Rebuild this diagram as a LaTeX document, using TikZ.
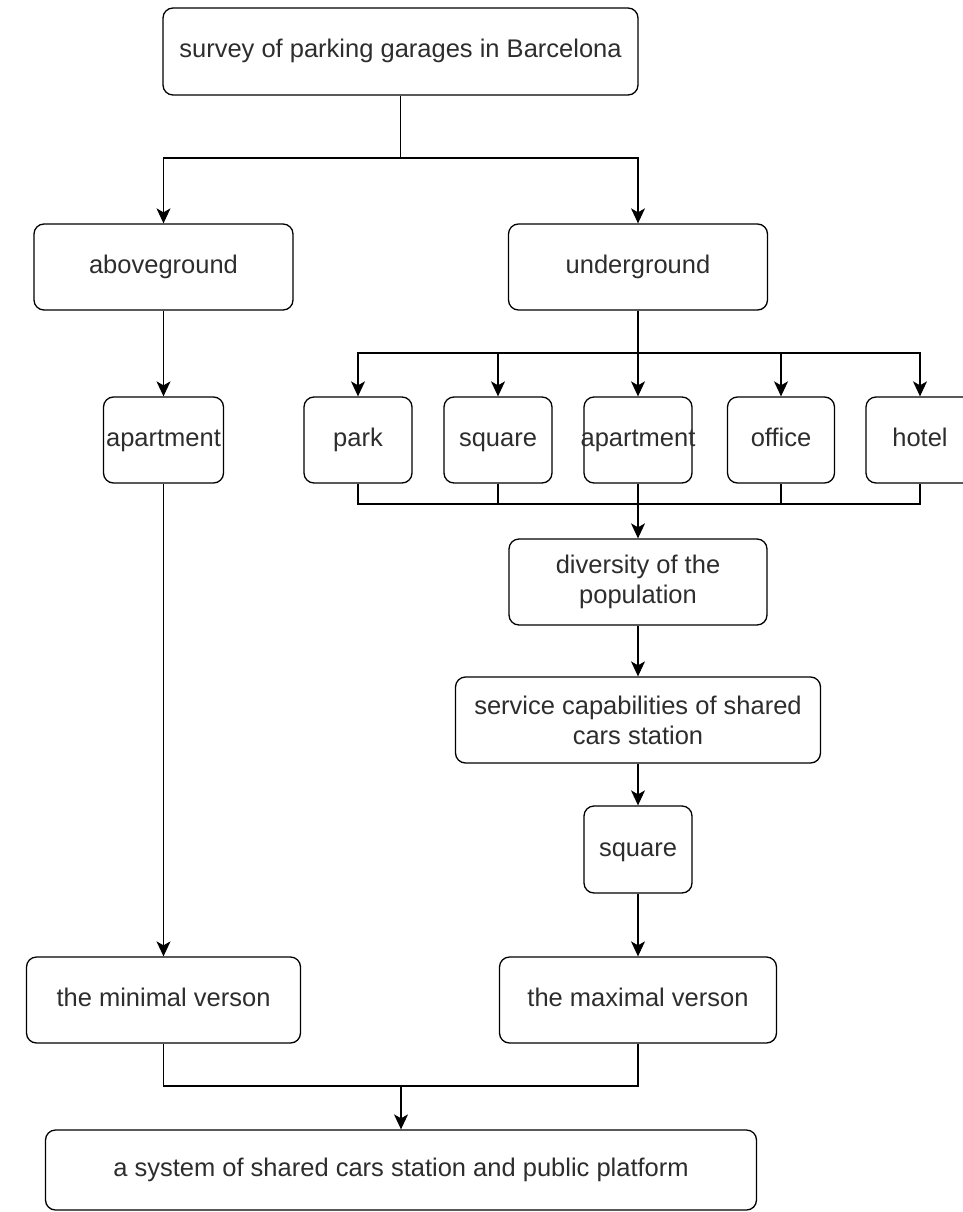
\documentclass[tikz,border=0pt]{standalone}
\usepackage{fontspec}
\setmainfont{Liberation Sans}
\usetikzlibrary{arrows.meta}
\definecolor{txt}{RGB}{45,45,45}
\tikzset{
  box/.style={draw=black, line width=1.3pt, rounded corners=10pt, fill=white,
    inner sep=0pt, align=center, text=txt,
    font=\fontsize{25.5}{30}\selectfont},
  one/.style={box, text height=18pt, text depth=5pt},
  conn/.style={line width=1.3pt, draw=black},
  arr/.style={conn, -{Stealth[length=15pt, width=14pt, inset=4pt]}},
}
\begin{document}
\begin{tikzpicture}[x=1pt, y=-1pt]
\useasboundingbox (0,0) rectangle (963,1212);
\fill[white] (0,0) rectangle (963,1212);

\node[one, minimum width=475pt, minimum height=87pt] (top) at (400.5,51.5) {survey of parking garages in Barcelona};
\node[one, minimum width=259pt, minimum height=86pt] (above) at (163.5,267) {aboveground};
\node[one, minimum width=259pt, minimum height=86pt] (under) at (638,267) {underground};

\node[one, minimum width=120pt, minimum height=86pt] (aptL) at (163.5,440) {apartment};
\node[one, minimum width=108pt, minimum height=86pt] (park) at (358,440) {park};
\node[one, minimum width=108pt, minimum height=86pt] (sqA) at (498,440) {square};
\node[one, minimum width=108pt, minimum height=86pt, text width=108pt] (aptM) at (638,440) {\makebox[108pt][c]{apartment}};
\node[one, minimum width=107pt, minimum height=86pt] (office) at (781,440) {office};
\node[one, minimum width=108pt, minimum height=86pt] (hotel) at (920,440) {hotel};

\node[box, minimum width=258pt, minimum height=86pt] (div) at (638,582) {diversity of the\\population};
\node[box, minimum width=365pt, minimum height=86pt] (serv) at (638,720) {service capabilities of shared\\cars station};
\node[one, minimum width=108pt, minimum height=87pt] (sqB) at (638,849.5) {square};

\node[one, minimum width=274pt, minimum height=86pt] (minv) at (163.5,1000) {the minimal verson};
\node[one, minimum width=277pt, minimum height=86pt] (maxv) at (638,1000) {the maximal verson};
\node[one, minimum width=711pt, minimum height=80pt] (sys) at (401,1170) {a system of shared cars station and public platform};

% top split
\coordinate (j1) at (400.5,158);
\draw[conn] (top.south) -- (j1);
\draw[arr] (j1) -| (above.north);
\draw[arr] (j1) -| (under.north);

% left branch
\draw[arr] (above.south) -- (aptL.north);
\draw[arr] (aptL.south) -- (minv.north);

% right fan-out
\coordinate (j2) at (638,353);
\draw[arr] (under.south) -- (aptM.north);
\draw[arr] (j2) -| (park.north);
\draw[arr] (j2) -| (sqA.north);
\draw[arr] (j2) -| (office.north);
\draw[arr] (j2) -| (hotel.north);

% fan-in
\coordinate (j3) at (638,504);
\draw[conn] (park.south) |- (j3);
\draw[conn] (sqA.south) |- (j3);
\draw[conn] (office.south) |- (j3);
\draw[conn] (hotel.south) |- (j3);
\draw[arr] (aptM.south) -- (div.north);

\draw[arr] (div.south) -- (serv.north);
\draw[arr] (serv.south) -- (sqB.north);
\draw[arr] (sqB.south) -- (maxv.north);

% bottom join
\coordinate (j4) at (401,1086);
\draw[conn] (minv.south) |- (j4);
\draw[conn] (maxv.south) |- (j4);
\draw[arr] (j4) -- (sys.north);
\end{tikzpicture}
\end{document}
